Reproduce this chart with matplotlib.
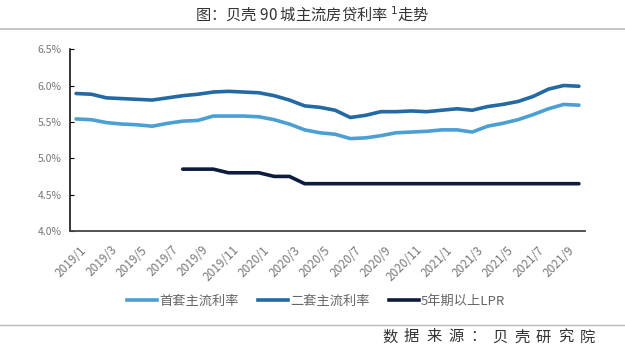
import numpy as np
import matplotlib
matplotlib.use('Agg')
import matplotlib.pyplot as plt
import matplotlib.lines as mlines
import matplotlib.transforms as mtransforms

plt.rcParams['font.family'] = ['Noto Sans CJK SC', 'DejaVu Sans']

# monthly data 2019/1 - 2021/10
months = ['%d/%d' % (y, m) for y in (2019, 2020, 2021) for m in range(1, 13)][:34]
first_home = [5.54, 5.53, 5.49, 5.47, 5.46, 5.44, 5.48, 5.51, 5.52, 5.58,
              5.58, 5.58, 5.57, 5.53, 5.47, 5.39, 5.35, 5.33, 5.27, 5.28,
              5.31, 5.35, 5.36, 5.37, 5.39, 5.39, 5.36, 5.44, 5.48, 5.53,
              5.60, 5.68, 5.74, 5.73]
second_home = [5.89, 5.88, 5.83, 5.82, 5.81, 5.80, 5.83, 5.86, 5.88, 5.91,
               5.92, 5.91, 5.90, 5.86, 5.80, 5.72, 5.70, 5.66, 5.56, 5.59,
               5.64, 5.64, 5.65, 5.64, 5.66, 5.68, 5.66, 5.71, 5.74, 5.78,
               5.85, 5.95, 6.00, 5.99]
lpr = [np.nan] * 7 + [4.85, 4.85, 4.85, 4.80, 4.80, 4.80, 4.75, 4.75] + [4.65] * 19

labels = ['首套主流利率', '二套主流利率', '5年期以上LPR']
colors = ['#4b9fd3', '#2369a3', '#0c1b3e']

fig = plt.figure(figsize=(6.25, 3.51), dpi=100)
ax = fig.add_axes([0.112, 0.342, 0.824, 0.518])

x = np.arange(len(months))
for vals, lab, col in zip([first_home, second_home, lpr], labels, colors):
    ax.plot(x, vals, color=col, lw=2.6, label=lab, solid_capstyle='round')

ax.set_xlim(-0.4, 33.4)
ax.set_ylim(4.0, 6.5)
yt = [4.0, 4.5, 5.0, 5.5, 6.0, 6.5]
ax.set_yticks(yt)
ax.set_yticklabels(['%.1f%%' % v for v in yt])
ax.set_xticks(x[::2])
ax.set_xticklabels(months[::2], rotation=45, ha='right', va='top', rotation_mode='anchor')

ax.tick_params(axis='y', direction='in', length=3, colors='black', labelcolor='#777777',
               labelsize=7.5, pad=6)
ax.tick_params(axis='x', length=0, labelcolor='#777777', labelsize=8.5, pad=9)
# nudge x labels a little to the right, like the original
shift = mtransforms.ScaledTranslation(4 / 100, 0, fig.dpi_scale_trans)
for t in ax.get_xticklabels():
    t.set_transform(t.get_transform() + shift)

for s in ['top', 'right']:
    ax.spines[s].set_visible(False)
ax.spines['left'].set_color('black')
ax.spines['bottom'].set_color('#444444')
ax.spines['left'].set_linewidth(1.1)
ax.spines['bottom'].set_linewidth(1.3)

handles = [mlines.Line2D([], [], color=c, lw=2.6) for c in colors]
fig.legend(handles, labels, loc='center', bbox_to_anchor=(0.506, 0.142), ncol=3,
           frameon=False, fontsize=9.5, labelcolor='#666666', handlelength=2.25,
           handletextpad=0.15, columnspacing=1.5)

fig.text(0.5, 0.957, '图：贝壳 90 城主流房贷利率 $^1$走势', ha='center', va='center',
         fontsize=11, color='#333333')
fig.add_artist(mlines.Line2D([0, 1], [0.916, 0.916], color='#bbbbbb', lw=1.2))
fig.add_artist(mlines.Line2D([0, 1], [0.074, 0.074], color='#bbbbbb', lw=1.0))

# source note, spaced out character by character
source = '数据来源：贝壳研究院'
for i, ch in enumerate(source):
    fig.text((382 + 22 * i) / 625, 0.040, ch, ha='left', va='center',
             fontsize=11, color='#333333')

fig.savefig('out.png', dpi=100)
